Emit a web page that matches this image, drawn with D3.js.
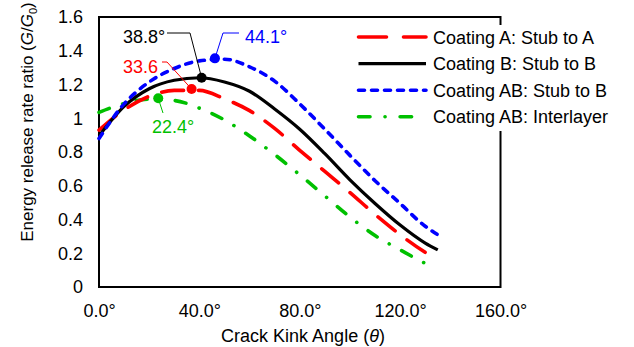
<!DOCTYPE html>
<html>
<head>
<meta charset="utf-8">
<script src="https://cdn.jsdelivr.net/npm/d3@7"></script>
<style>
  html, body { margin: 0; padding: 0; background: #fff; }
  svg text { font-family: "Liberation Sans", Arial, sans-serif; fill: #000; }
</style>
</head>
<body>
<svg id="chart" width="634" height="347"></svg>
<script>
// data
const angles      = [0, 10, 20, 30, 40, 50, 60, 70, 80, 90, 100, 110, 120, 130, 135]
const coatingA    = [0.93, 1.05, 1.13, 1.165, 1.165, 1.115, 1.045, 0.94, 0.81, 0.685, 0.56, 0.43, 0.31, 0.205, 0.16]
const coatingB    = [0.895, 1.07, 1.175, 1.225, 1.24, 1.215, 1.16, 1.055, 0.935, 0.79, 0.635, 0.495, 0.367, 0.26, 0.22]
const coatingAB   = [0.88, 1.085, 1.215, 1.295, 1.34, 1.35, 1.305, 1.22, 1.085, 0.935, 0.78, 0.63, 0.495, 0.36, 0.31]
const anglesInter = [0, 10, 20, 30, 40, 50, 60, 70, 80, 90, 100, 110, 120, 130, 132]
const interlayer  = [1.035, 1.087, 1.113, 1.105, 1.06, 0.99, 0.895, 0.785, 0.665, 0.54, 0.415, 0.305, 0.22, 0.14, 0.125]

// peak markers: [angle on axis, value, label]
const peakA     = [36.9, 1.173, '33.6']
const peakB     = [40.9, 1.24,  '38.8°']
const peakAB    = [46.2, 1.355, '44.1°']
const peakInter = [23.6, 1.118, '22.4°']

const xTicks = [0, 40, 80, 120, 160]
const yTicks = [0, 0.2, 0.4, 0.6, 0.8, 1, 1.2, 1.4, 1.6]

const seriesNames = ['Coating A: Stub to A', 'Coating B: Stub to B', 'Coating AB: Stub to B', 'Coating AB: Interlayer']

const svg = d3.select('#chart')
const FONT = '"Liberation Sans", Arial, sans-serif'

const x = d3.scaleLinear().domain([0, 160]).range([99, 500.5])
const y = d3.scaleLinear().domain([0, 1.6]).range([287, 17])

// series styles
const styles = [
  { color: '#ff0000', width: 3.6, dash: '22,15', legendDash: '28,17', cap: 'round' },
  { color: '#000000', width: 3.2, dash: null, legendDash: null, cap: 'butt' },
  { color: '#0000ff', width: 3.6, dash: '6,7', legendDash: '6,7', cap: 'round' },
  { color: '#00c000', width: 3.6, dash: '11,14,0.1,14', legendDash: '11.5,15,0.1,15', cap: 'round' }
]

const series = [
  angles.map((a, i) => [a, coatingA[i]]),
  angles.map((a, i) => [a, coatingB[i]]),
  angles.map((a, i) => [a, coatingAB[i]]),
  anglesInter.map((a, i) => [a, interlayer[i]])
]

// axes — labels only, no tick marks
const yAxis = d3.axisLeft(y).tickValues(yTicks).tickSize(0).tickPadding(16)
  .tickFormat(d => d3.format('~g')(d))
const xAxis = d3.axisBottom(x).tickValues(xTicks).tickSize(0).tickPadding(17)
  .tickFormat(d => d3.format('.1f')(d) + '°')

svg.append('g').attr('transform', 'translate(99,0)').call(yAxis)
  .call(g => g.select('.domain').remove())
  .selectAll('text').attr('font-size', '18px').attr('font-family', FONT)

svg.append('g').attr('transform', 'translate(0,287)').call(xAxis)
  .call(g => g.select('.domain').remove())
  .selectAll('text').attr('font-size', '18px').attr('font-family', FONT)

// plot frame
svg.append('rect')
  .attr('x', x(0)).attr('y', y(1.6))
  .attr('width', x(160) - x(0)).attr('height', y(0) - y(1.6))
  .attr('fill', 'none').attr('stroke', '#000').attr('stroke-width', 2)

// lines
const line = d3.line().x(d => x(d[0])).y(d => y(d[1])).curve(d3.curveMonotoneX)

const order = [3, 0, 1, 2]
order.forEach(i => {
  svg.append('path')
    .datum(series[i])
    .attr('d', line)
    .attr('fill', 'none')
    .attr('stroke', styles[i].color)
    .attr('stroke-width', styles[i].width)
    .attr('stroke-linecap', styles[i].cap)
    .attr('stroke-dasharray', styles[i].dash)
})

// peak annotations
const ann = svg.append('g')

function leader(pts, color) {
  ann.append('path')
    .attr('d', d3.line()(pts))
    .attr('fill', 'none').attr('stroke', color).attr('stroke-width', 1)
}

function dot(p, color) {
  ann.append('circle').attr('cx', x(p[0])).attr('cy', y(p[1])).attr('r', 5).attr('fill', color)
}

function label(txt, px, py, color) {
  ann.append('text').attr('x', px).attr('y', py)
    .style('fill', color).attr('font-size', '18px').text(txt)
}

// 38.8° — black
leader([[167, 33], [190, 33], [x(peakB[0]), y(peakB[1])]], '#000')
label(peakB[2], 123, 43, '#000')
dot(peakB, '#000')

// 33.6 — red
leader([[162, 62], [167, 62], [x(peakA[0]), y(peakA[1])]], '#ff0000')
label(peakA[2], 123, 73, '#ff0000')
dot(peakA, '#ff0000')

// 44.1° — blue
leader([[239, 33], [223, 33], [x(peakAB[0]), y(peakAB[1])]], '#0000ff')
label(peakAB[2], 245, 43, '#0000ff')
dot(peakAB, '#0000ff')

// 22.4° — green
leader([[x(peakInter[0]), y(peakInter[1])], [163, 113]], '#00c000')
label(peakInter[2], 152, 133, '#00c000')
dot(peakInter, '#00c000')

// legend, white box over the frame
const legend = svg.append('g')
legend.append('rect').attr('x', 352).attr('y', 25).attr('width', 275).attr('height', 106).attr('fill', '#fff')

seriesNames.forEach((name, i) => {
  const ly = 37 + i * 26.6
  legend.append('line')
    .attr('x1', 358.5).attr('x2', 426).attr('y1', ly).attr('y2', ly)
    .attr('stroke', styles[i].color)
    .attr('stroke-width', styles[i].width)
    .attr('stroke-linecap', styles[i].cap)
    .attr('stroke-dasharray', styles[i].legendDash)
  legend.append('text')
    .attr('x', 433).attr('y', ly + 6.5)
    .attr('font-size', '18px')
    .text(name)
})

// axis titles
svg.append('text')
  .attr('x', 303).attr('y', 342)
  .attr('text-anchor', 'middle').attr('font-size', '18px')
  .call(t => {
    t.append('tspan').text('Crack Kink Angle (')
    t.append('tspan').attr('font-style', 'italic').text('θ')
    t.append('tspan').text(')')
  })

svg.append('text')
  .attr('transform', 'translate(33,122) rotate(-90)')
  .attr('text-anchor', 'middle').attr('font-size', '17px')
  .call(t => {
    t.append('tspan').text('Energy release rate ratio (')
    t.append('tspan').attr('font-style', 'italic').text('G')
    t.append('tspan').text('/')
    t.append('tspan').attr('font-style', 'italic').text('G')
    t.append('tspan').attr('font-size', '11px').attr('dy', 4).text('0')
    t.append('tspan').attr('dy', -4).text(')')
  })
</script>
</body>
</html>
